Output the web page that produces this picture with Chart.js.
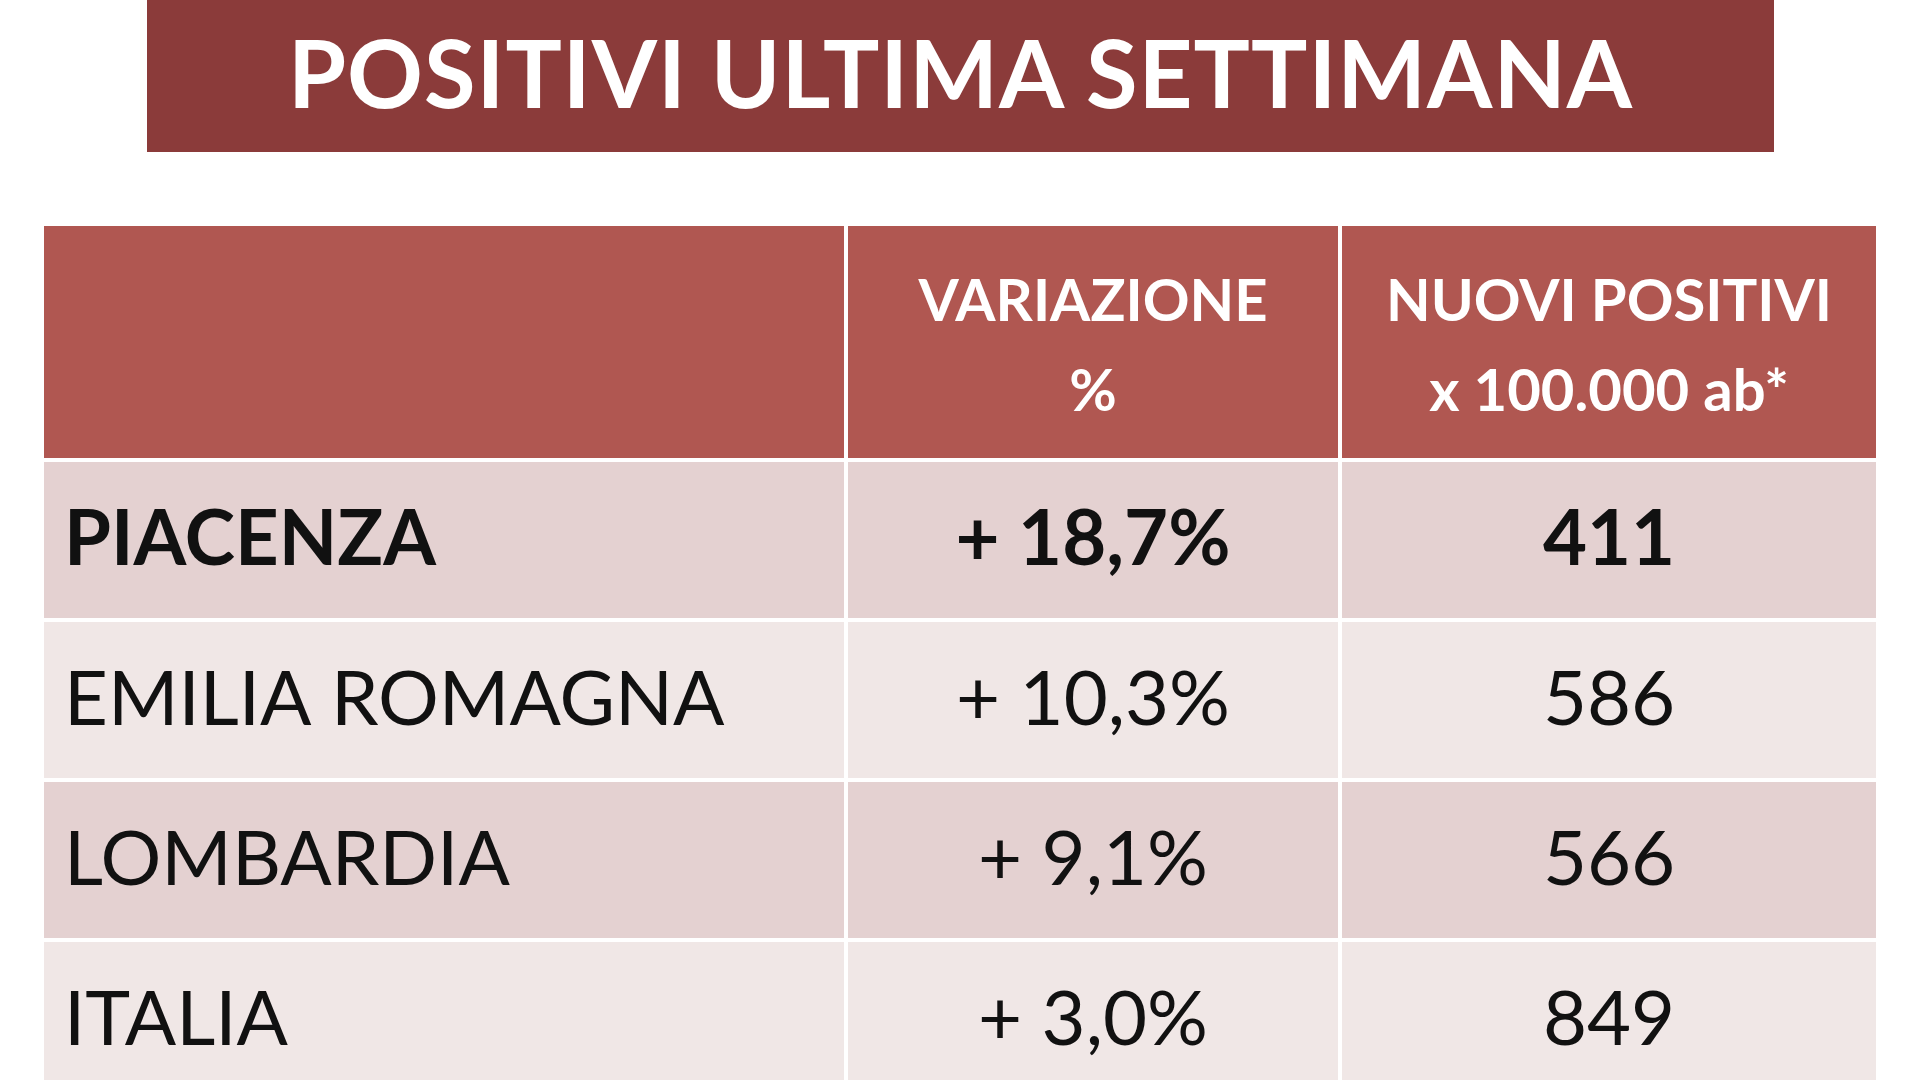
<!DOCTYPE html>
<html>
<head>
<meta charset="utf-8">
<script src="https://cdn.jsdelivr.net/npm/chart.js@4"></script>
<style>
  body { margin: 0; width: 1920px; height: 1080px; overflow: hidden; background: #fff; font-family: Lato, "Open Sans", sans-serif; }
  #title { position: absolute; left: 147px; top: 0; width: 1627px; height: 152px; background: #8B3B3A;
           color: #fff; font: bold 94px Lato, "Open Sans", sans-serif; text-align: center; line-height: 144px; letter-spacing: 1px; }
  #wrap { position: absolute; left: 0; top: 0; width: 1920px; height: 1080px; }
</style>
</head>
<body>
<div id="wrap"><canvas id="tableChart"></canvas></div>
<div id="title">POSITIVI ULTIMA SETTIMANA</div>
<script>
// data
var headers = [["", ""], ["VARIAZIONE", "%"], ["NUOVI POSITIVI", "x 100.000 ab*"]];
var areas = ["PIACENZA", "EMILIA ROMAGNA", "LOMBARDIA", "ITALIA"];
var variazione = ["+ 18,7%", "+ 10,3%", "+ 9,1%", "+ 3,0%"];
var nuoviPositivi = [411, 586, 566, 849];

// layout (page units)
var colEdges = [44, 846, 1340, 1878];
var rowEdges = [226, 460, 620, 780, 940, 1100];
var rowFill = ["#B05751", "#E4D1D1", "#F0E7E6", "#E4D1D1", "#F0E7E6"];

var tablePlugin = {
    id: 'tablePlugin',
    afterDraw: function(chart) {
        var ctx = chart.ctx, xs = chart.scales.x, ys = chart.scales.y;
        var gap = 2;
        for (var r = 0; r < rowEdges.length - 1; r++) {
            for (var c = 0; c < colEdges.length - 1; c++) {
                var x0 = xs.getPixelForValue(colEdges[c]) + (c ? gap : 0);
                var x1 = xs.getPixelForValue(colEdges[c + 1]) - gap;
                var y0 = ys.getPixelForValue(rowEdges[r]) + (r ? gap : 0);
                var y1 = ys.getPixelForValue(rowEdges[r + 1]) - gap;
                ctx.fillStyle = rowFill[r];
                ctx.fillRect(x0, y0, x1 - x0, y1 - y0);
            }
        }
        ctx.textBaseline = 'middle';
        // header
        ctx.fillStyle = '#fff';
        ctx.font = 'bold 58px Lato, "Open Sans", sans-serif';
        ctx.textAlign = 'center';
        for (var c = 1; c < headers.length; c++) {
            var cx = xs.getPixelForValue((colEdges[c] + colEdges[c + 1]) / 2);
            ctx.fillText(headers[c][0], cx, ys.getPixelForValue(rowEdges[0] + 76));
            ctx.fillText(headers[c][1], cx, ys.getPixelForValue(rowEdges[0] + 166));
        }
        // body
        ctx.fillStyle = '#111';
        for (var i = 0; i < areas.length; i++) {
            var cy = ys.getPixelForValue((rowEdges[i + 1] + rowEdges[i + 2]) / 2);
            ctx.font = (i === 0 ? 'bold ' : '') + '76px Lato, "Open Sans", sans-serif';
            ctx.textAlign = 'left';
            ctx.fillText(areas[i], xs.getPixelForValue(colEdges[0] + 20), cy);
            ctx.textAlign = 'center';
            ctx.fillText(variazione[i], xs.getPixelForValue((colEdges[1] + colEdges[2]) / 2), cy);
            ctx.fillText(String(nuoviPositivi[i]), xs.getPixelForValue((colEdges[2] + colEdges[3]) / 2), cy);
        }
    }
};

var ctx = document.getElementById("tableChart").getContext("2d");
new Chart(ctx, {
    type: 'scatter',
    data: { datasets: [{ data: [], pointRadius: 0 }] },
    options: {
        responsive: true,
        maintainAspectRatio: false,
        animation: false,
        layout: { padding: 0 },
        plugins: { legend: { display: false }, tooltip: { enabled: false } },
        scales: {
            x: { type: 'linear', min: 0, max: 1920, display: false },
            y: { type: 'linear', min: 0, max: 1080, reverse: true, display: false }
        }
    },
    plugins: [tablePlugin]
});
</script>
</body>
</html>
